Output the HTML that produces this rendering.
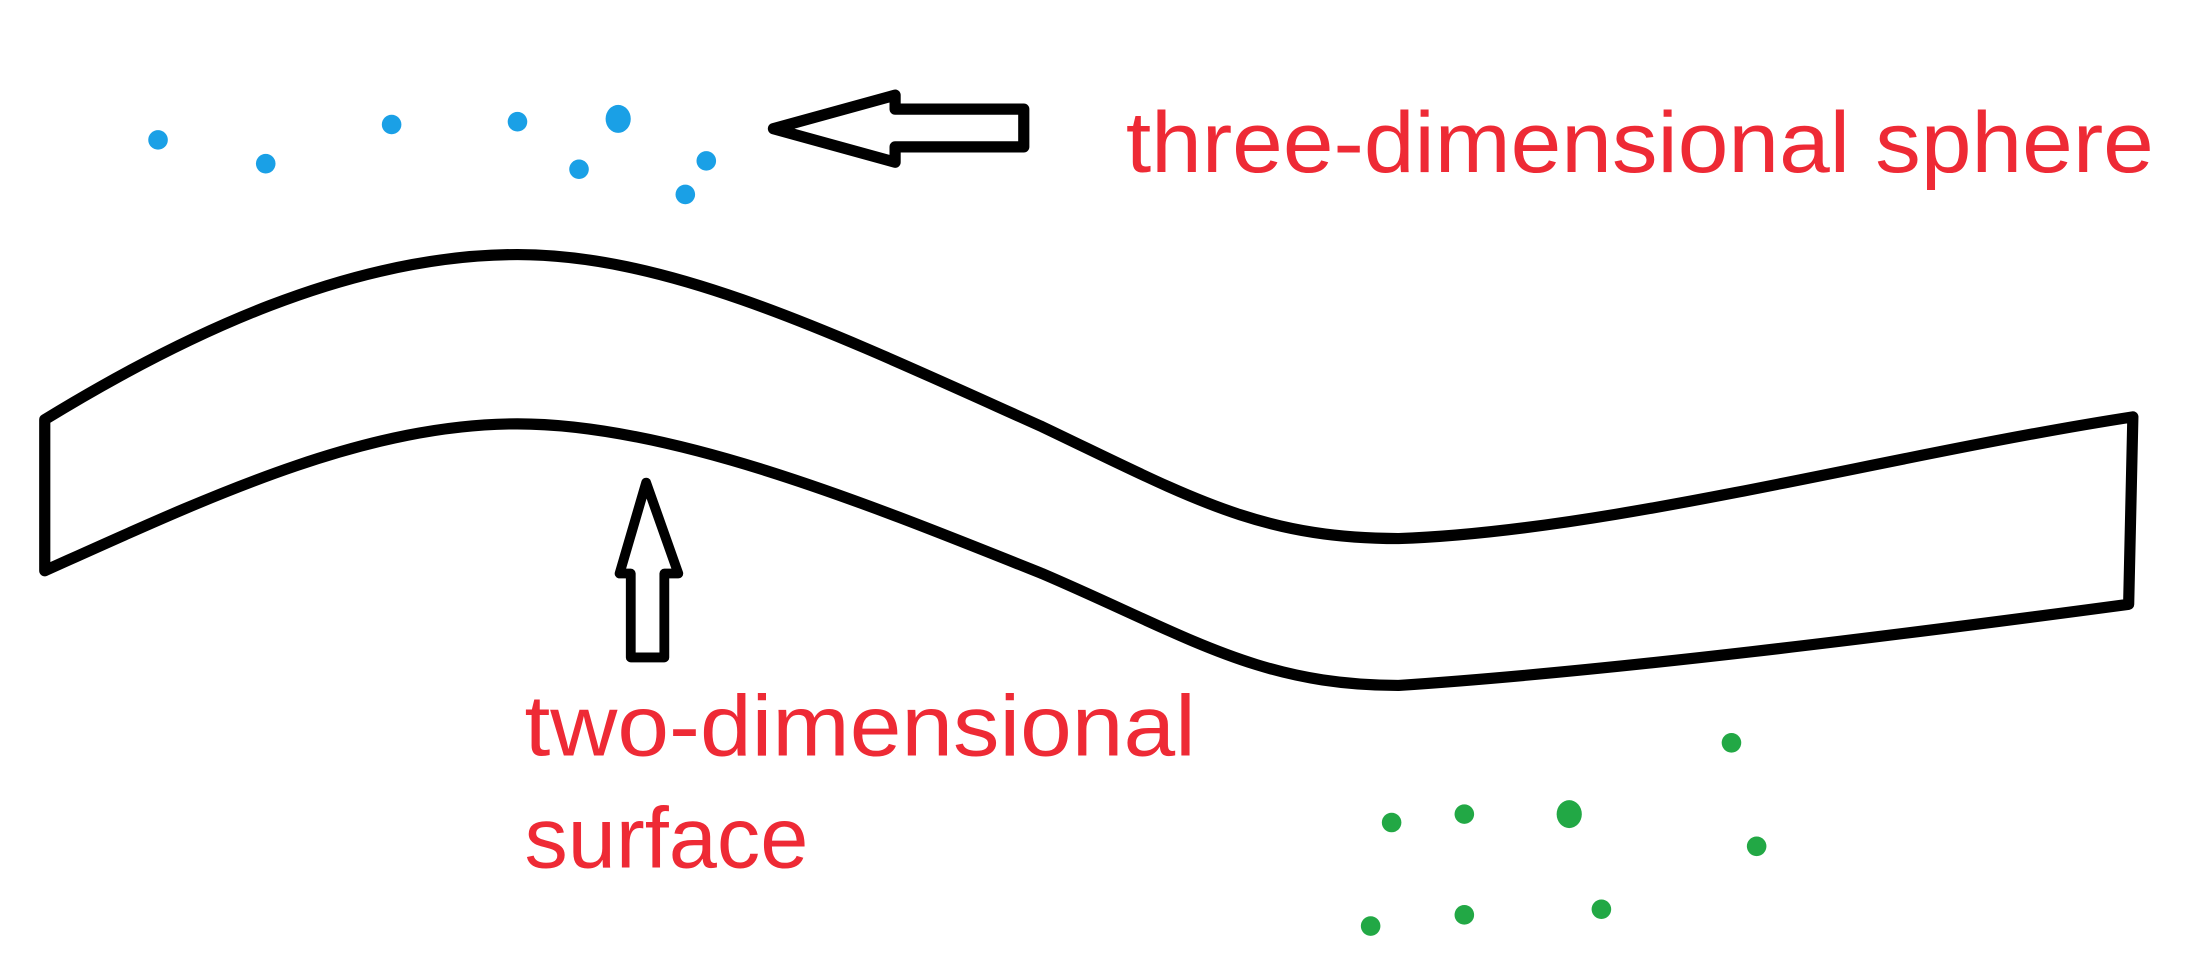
<!DOCTYPE html>
<html><head><meta charset="utf-8"><style>
html,body{margin:0;padding:0;background:#fff;width:2193px;height:968px;overflow:hidden}
svg{display:block}
text{font-family:"Liberation Sans",sans-serif;fill:#ee2a35}
</style></head><body>
<svg width="2193" height="968" viewBox="0 0 1568 692" preserveAspectRatio="none" xmlns="http://www.w3.org/2000/svg">
<g fill="#1aa0e6">
<circle cx="113" cy="100" r="7"/><circle cx="190" cy="117" r="7"/><circle cx="280" cy="89" r="7"/>
<circle cx="370" cy="87" r="7"/><ellipse cx="442" cy="85" rx="9" ry="10"/><circle cx="414" cy="121" r="7"/>
<circle cx="505" cy="115" r="7"/><circle cx="490" cy="139" r="7"/>
</g>
<g fill="#22a845">
<circle cx="1238" cy="531" r="7"/><circle cx="995" cy="588" r="7"/><circle cx="1047" cy="582" r="7"/>
<ellipse cx="1122" cy="582" rx="9" ry="10"/><circle cx="1256" cy="605" r="7"/><circle cx="980" cy="662" r="7"/>
<circle cx="1047" cy="654" r="7"/><circle cx="1145" cy="650" r="7"/>
</g>
<g fill="none" stroke="#000" stroke-width="8" stroke-linejoin="round" stroke-linecap="round">
<path d="M553,92 L640,68 L640,78 L732,78 L732,105 L640,105 L640,116 Z"/>
<path d="M32,300 C130,240 250,182 370,182 C480,182 600,240 745,305 C850,355 900,385 1000,385 C1150,380 1350,325 1525,298 L1522,432 C1350,455 1150,480 1000,490 C900,490 850,455 745,410 C620,360 480,303 370,303 C260,303 150,355 32,408 Z"/>
<path d="M462,345 L443,410 L451,410 L451,470 L475,470 L475,410 L485,410 Z" stroke-width="7"/>
</g>
<text x="805" y="123" font-size="62" textLength="735" lengthAdjust="spacingAndGlyphs">three-dimensional sphere</text>
<text x="375" y="540" font-size="62" textLength="480" lengthAdjust="spacingAndGlyphs">two-dimensional</text>
<text x="375" y="620" font-size="62" textLength="203" lengthAdjust="spacingAndGlyphs">surface</text>
</svg>
</body></html>
